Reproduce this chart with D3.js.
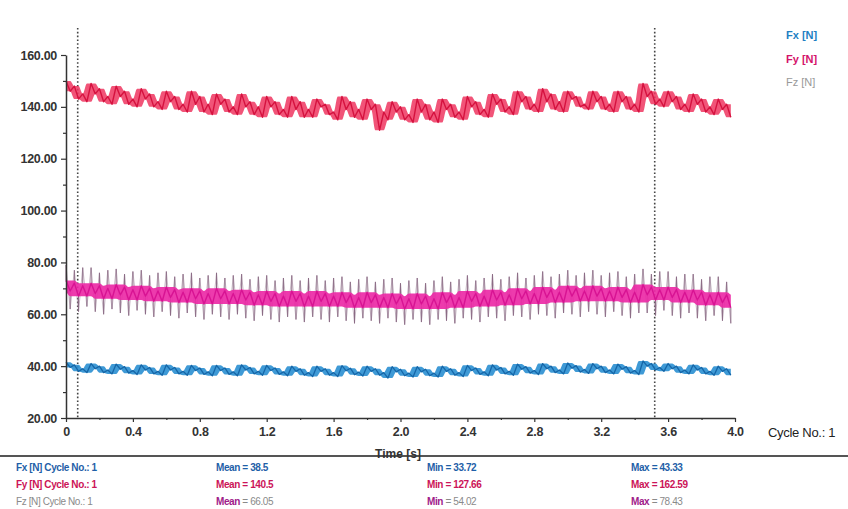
<!DOCTYPE html>
<html><head><meta charset="utf-8">
<script src="https://cdn.jsdelivr.net/npm/d3@7"></script>
<style>
body{margin:0;background:#fff;}
svg{display:block;font-family:"Liberation Sans",Arial,sans-serif;}
</style></head>
<body><svg id="c" width="848" height="509"></svg>
<script>
// ---- data ----
const sampleStep = 0.025; // s
const fy = [
150,146,148,143,145,142, 149,145,147,142,144,141, 148,144,146,141,143,140, 147,143,145,140,142,139,
146,142,144,139,141,138, 146,141,144,138,141,137, 145,141,143,138,140,137, 145,140,142,137,140,136,
144,140,142,137,139,136, 144,139,142,136,139,136, 143,140,141,137,138,135, 144,139,142,136,139,135,
143,139,141,131,138,135, 142,138,140,135,137,134, 143,138,141,135,138,134, 143,139,141,136,138,135,
144,140,142,137,139,136, 145,141,143,138,140,137, 146,142,144,139,141,138, 147,142,145,139,142,138,
146,143,144,140,141,139, 146,142,144,139,141,138, 146,142,144,139,141,138, 149,144,146,141,143,140,
146,142,144,139,141,138, 145,141,143,138,140,137, 143,139,141,136];
const fx = [
41.5,39.5,40.5,38.0,39.0,37.5, 41.0,39.0,40.0,37.5,38.5,37.0, 40.8,38.8,39.8,37.3,38.3,36.8,
40.5,38.5,39.5,37.0,38.0,36.5, 40.5,38.5,39.5,37.0,38.0,36.5, 40.3,38.3,39.3,36.8,37.8,36.3,
40.3,38.3,39.3,36.8,37.8,36.3, 40.5,38.5,39.5,37.0,38.0,36.5, 40.3,38.3,39.3,36.8,37.8,36.3,
40.0,38.0,39.0,36.5,37.5,36.0, 40.0,38.0,39.0,36.5,37.5,36.0, 40.2,38.2,39.2,36.7,37.7,36.2,
40.0,38.0,39.0,36.5,37.5,35.4, 39.8,37.8,38.8,36.3,37.3,35.8, 39.8,37.8,38.8,36.3,37.3,35.8,
40.0,38.0,39.0,36.5,37.5,36.0, 40.3,38.3,39.3,36.8,37.8,36.3, 40.5,38.5,39.5,37.0,38.0,36.5,
40.8,38.8,39.8,37.3,38.3,36.8, 41.0,39.0,40.0,37.5,38.5,37.0, 41.2,39.2,40.2,37.7,38.7,37.2,
41.0,39.0,40.0,37.5,38.5,37.0, 40.8,38.8,39.8,37.3,38.3,36.8, 42.0,40.0,41.0,38.5,39.5,38.0,
41.0,39.0,40.0,37.5,38.5,37.0, 40.5,38.5,39.5,37.0,38.0,36.5, 40.0,38.0,39.0,36.5];
const fz = [
73,69,72,67,71,67, 72,68,71,66,70,66, 71.5,67.5,70.5,65.5,69.5,65.5, 71,67,70,65,69,65,
70.5,66.5,69.5,64.5,68.5,64.5, 70,66,69,64,68,64, 70,66,69,64,68,64, 69.5,65.5,68.5,63.5,67.5,63.5,
69,65,68,63,67,63, 69,65,68,63,67,63, 69,65,68,63,67,63, 68.5,64.5,67.5,62.5,66.5,62.5,
68.5,64.5,67.5,62.5,66.5,62.5, 68,64,67,62,66,62, 68,64,67,62,66,62, 68.5,64.5,67.5,62.5,66.5,62.5,
69,65,68,63,67,63, 69.5,65.5,68.5,63.5,67.5,63.5, 70,66,69,64,68,64, 70.5,66.5,69.5,64.5,68.5,64.5,
71,67,70,65,69,65, 71,67,70,65,69,65, 70.5,66.5,69.5,64.5,68.5,64.5, 71.5,67.5,70.5,65.5,69.5,65.5,
70.5,66.5,69.5,64.5,68.5,64.5, 69.5,65.5,68.5,63.5,67.5,63.5, 68.5,64.5,67.5,62.5];
const fzSpikes = [
79,62,77,61,78,63, 78,61,76,60,77,62, 77.5,60.5,75.5,59.5,76.5,61.5, 77,60,75,59,76,61,
76.5,59.5,74.5,58.5,75.5,60.5, 76,59,74,58,75,60, 76,59,74,58,75,60, 75.5,58.5,73.5,57.5,74.5,59.5,
75,58,73,57,74,59, 75,58,73,57,74,59, 75,58,73,57,74,59, 74.5,57.5,72.5,56.5,73.5,58.5,
74.5,57.5,72.5,56.5,73.5,58.5, 74,57,72,56,73,58, 74,57,72,56,73,58, 74.5,57.5,72.5,56.5,73.5,58.5,
75,58,73,57,74,59, 75.5,58.5,73.5,57.5,74.5,59.5, 76,59,74,58,75,60, 76.5,59.5,74.5,58.5,75.5,60.5,
77,60,75,59,76,61, 77,60,75,59,76,61, 76.5,59.5,74.5,58.5,75.5,60.5, 77.5,60.5,75.5,59.5,76.5,61.5,
76.5,59.5,74.5,58.5,75.5,60.5, 75.5,58.5,73.5,57.5,74.5,59.5, 74.5,57.5,72.5,56.5];
const cursorTimes = [0.07, 3.52];
const xTicks = [0,0.4,0.8,1.2,1.6,2.0,2.4,2.8,3.2,3.6,4.0];
const yTicks = [20,40,60,80,100,120,140,160];
const seriesNames = ["Fx [N]","Fy [N]","Fz [N]"];
const meanVals = ["38.5","140.5","66.05"];
const minVals = ["33.72","127.66","54.02"];
const maxVals = ["43.33","162.59","78.43"];

// ---- drawing ----
const svg = d3.select("#c");
const x = d3.scaleLinear().domain([0,4]).range([66,735]);
const y = d3.scaleLinear().domain([20,160]).range([418,55]);
const axisCol = "#333";

// cursor lines
svg.selectAll(".cur").data(cursorTimes).join("line")
  .attr("x1",d=>x(d)).attr("x2",d=>x(d)).attr("y1",28).attr("y2",418)
  .attr("stroke","#444").attr("stroke-width",1.6).attr("stroke-dasharray","1.6,2.2");

const tx = i => x(i*sampleStep);
const line = d3.line().x((d,i)=>tx(i)).y(d=>y(d));
// local envelope band (min/max of neighbouring samples)
function band(arr, k){
  return arr.map((v,i)=>{
    const w = arr.slice(Math.max(0,i-k), Math.min(arr.length,i+k+1));
    return {i, lo:d3.min(w), hi:d3.max(w)};
  });
}
const area = d3.area().x(d=>tx(d.i)).y0(d=>y(d.lo)).y1(d=>y(d.hi)).curve(d3.curveMonotoneX);

function drawSeries(arr, k, fillCol, lineCol, op, lw){
  svg.append("path").datum(band(arr,k)).attr("d",area).attr("fill",fillCol).attr("opacity",op);
  svg.append("path").datum(arr).attr("d",line).attr("fill","none")
    .attr("stroke",lineCol).attr("stroke-width",lw).attr("stroke-linejoin","round");
}

// Fz: grey spikes then magenta core
svg.append("path").datum(fzSpikes).attr("d",line).attr("fill","none")
  .attr("stroke","#a0849a").attr("stroke-width",0.7).attr("opacity",0.8);
svg.append("g").selectAll("line").data(fzSpikes).join("line")
  .attr("x1",(d,i)=>tx(i)).attr("x2",(d,i)=>tx(i))
  .attr("y1",(d,i)=>y(fz[i])).attr("y2",d=>y(d))
  .attr("stroke","#8a6a84").attr("stroke-width",1);
drawSeries(fz, 2, "#ec2aa6", "#d81393", 0.92, 1.4);
drawSeries(fy, 1, "#ee3660", "#d5123f", 0.85, 1.4);
drawSeries(fx, 1, "#2a8fd2", "#1566a8", 0.9, 1.3);

// y axis
const yAxis = svg.append("g").attr("transform","translate(66,0)")
  .call(d3.axisLeft(y).tickValues(yTicks).tickFormat(d3.format(".2f")).tickSize(5).tickSizeOuter(0));
svg.append("g").attr("transform","translate(66,0)")
  .call(d3.axisLeft(y).tickValues(d3.range(30,160,20)).tickFormat("").tickSize(3).tickSizeOuter(0))
  .select(".domain").remove();
// x axis
const xAxis = svg.append("g").attr("transform","translate(0,418)")
  .call(d3.axisBottom(x).tickValues(xTicks).tickFormat(d=>d===0?"0":d3.format(".1f")(d)).tickSize(4).tickSizeOuter(0));
svg.append("g").attr("transform","translate(0,418)")
  .call(d3.axisBottom(x).tickValues(d3.range(0.2,4,0.4)).tickFormat("").tickSize(2).tickSizeOuter(0))
  .select(".domain").remove();
svg.selectAll(".domain").attr("stroke",axisCol).attr("stroke-width",1.5);
svg.selectAll(".tick line").attr("stroke",axisCol).attr("stroke-width",1.2);
yAxis.selectAll("text").attr("font-size",12.5).attr("font-weight","bold").attr("fill","#333")
  .attr("font-family","Liberation Sans, Arial").attr("dx",-1).attr("letter-spacing","-0.3");
xAxis.selectAll("text").attr("font-size",12.5).attr("font-weight","bold").attr("fill","#333")
  .attr("font-family","Liberation Sans, Arial").attr("dy","0.85em").attr("letter-spacing","-0.3");

svg.append("text").attr("x",768).attr("y",437).attr("font-size",13).attr("fill","#222")
  .attr("letter-spacing","-0.3").text("Cycle No.: 1");

// legend
const legCols = ["#1f7fc3", "#d4136a", "#999"];
svg.selectAll(".leg").data(seriesNames).join("text")
  .attr("x",786).attr("y",(d,i)=>39+i*23.5).attr("font-size",11)
  .attr("font-weight",(d,i)=>i<2?"bold":"normal").attr("fill",(d,i)=>legCols[i]).text(d=>d);

// Time label and separator
svg.append("line").attr("x1",0).attr("x2",848).attr("y1",456).attr("y2",456)
  .attr("stroke","#555").attr("stroke-width",2);
svg.append("text").attr("x",398).attr("y",458).attr("text-anchor","middle")
  .attr("font-size",12).attr("font-weight","bold").attr("fill","#333").text("Time [s]");

// footer stats
const rowCols = ["#1f5fa8","#cc1458","#8a8a8a"];
const keyCols = ["#1f5fa8","#cc1458","#a0208a"];
const rowY = [471,488,505];
const foot = svg.append("g").attr("font-size",10).attr("letter-spacing","-0.4");
seriesNames.forEach((n,i)=>{
  const w = i<2?"bold":"normal";
  foot.append("text").attr("x",16).attr("y",rowY[i]).attr("fill",rowCols[i]).attr("font-weight",w)
    .text(n+" Cycle No.: 1");
  [["Mean",meanVals,216],["Min",minVals,427],["Max",maxVals,631]].forEach(([k,arr,xx])=>{
    const t = foot.append("text").attr("x",xx).attr("y",rowY[i]).attr("font-weight",w);
    t.append("tspan").attr("fill",keyCols[i]).attr("font-weight","bold").text(k);
    t.append("tspan").attr("fill",rowCols[i]).text(" = "+arr[i]);
  });
});
</script></body></html>
